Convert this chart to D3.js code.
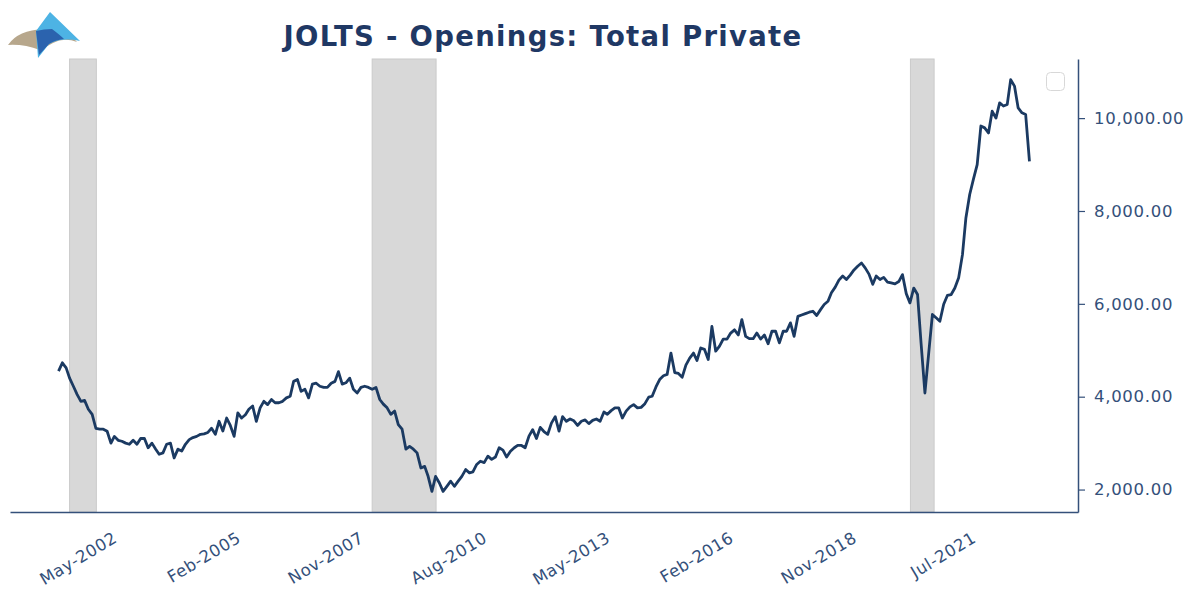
<!DOCTYPE html>
<html>
<head>
<meta charset="utf-8">
<script src="https://cdn.jsdelivr.net/npm/d3@7"></script>
<style>
body { margin:0; background:#fff; }
#canvas { width:1200px; height:595px; }
svg { display:block; font-family:"DejaVu Sans", sans-serif; }
</style>
</head>
<body>
<div id="canvas" class="canvas"></div>
<script>
var title = 'JOLTS - Openings: Total Private';

// monthly values, thousands, starting Dec 2000
var firstMonth = '2000-12';
var y2000 = [4550];
var y2001 = [4730, 4620, 4400, 4225, 4050, 3900, 3920, 3730, 3620, 3320, 3300, 3300];
var y2002 = [3255, 3000, 3145, 3060, 3040, 3000, 2975, 3060, 2975, 3100, 3100, 2900];
var y2003 = [3000, 2870, 2760, 2790, 2975, 3000, 2680, 2870, 2830, 2975, 3075, 3120];
var y2004 = [3145, 3190, 3200, 3230, 3320, 3190, 3470, 3260, 3540, 3380, 3145, 3650];
var y2005 = [3540, 3610, 3730, 3800, 3470, 3760, 3900, 3830, 3940, 3870, 3870, 3900];
var y2006 = [3975, 4010, 4330, 4370, 4115, 4160, 3975, 4270, 4290, 4225, 4200, 4200];
var y2007 = [4290, 4330, 4540, 4270, 4300, 4400, 4160, 4080, 4200, 4225, 4200, 4160];
var y2008 = [4200, 3940, 3840, 3760, 3620, 3690, 3400, 3300, 2870, 2930, 2870, 2790];
var y2009 = [2465, 2500, 2285, 1960, 2285, 2140, 1960, 2070, 2180, 2070, 2180, 2285];
var y2010 = [2430, 2360, 2380, 2540, 2610, 2580, 2720, 2650, 2700, 2900, 2850, 2700];
var y2011 = [2825, 2900, 2950, 2950, 2900, 3150, 3290, 3100, 3340, 3250, 3190, 3430];
var y2012 = [3570, 3260, 3570, 3470, 3520, 3480, 3380, 3470, 3500, 3420, 3490, 3520];
var y2013 = [3470, 3670, 3620, 3700, 3760, 3760, 3540, 3690, 3780, 3830, 3760, 3770];
var y2014 = [3850, 3990, 4010, 4210, 4370, 4450, 4480, 4940, 4520, 4500, 4420, 4680];
var y2015 = [4830, 4940, 4780, 5050, 5020, 4800, 5515, 4980, 5090, 5240, 5240, 5370];
var y2016 = [5440, 5330, 5660, 5300, 5250, 5250, 5370, 5240, 5330, 5140, 5410, 5410];
var y2017 = [5160, 5410, 5410, 5590, 5300, 5730, 5760, 5790, 5820, 5840, 5750, 5870];
var y2018 = [5985, 6055, 6240, 6360, 6510, 6600, 6525, 6620, 6730, 6810, 6880, 6775];
var y2019 = [6640, 6420, 6600, 6525, 6570, 6470, 6450, 6430, 6480, 6630, 6220, 6020];
var y2020 = [6340, 6200, 5140, 4080, 4910, 5770, 5700, 5625, 5990, 6180, 6200, 6340];
var y2021 = [6560, 7060, 7850, 8355, 8680, 9000, 9830, 9790, 9680, 10150, 10000, 10330];
var y2022 = [10260, 10295, 10830, 10690, 10220, 10115, 10080, 9070];

var xTicks = ['May-2002', 'Feb-2005', 'Nov-2007', 'Aug-2010', 'May-2013', 'Feb-2016', 'Nov-2018', 'Jul-2021'];
var yTicks = [2000, 4000, 6000, 8000, 10000];

var recessions = [
    ['2001-03-01', '2001-10-05'],
    ['2007-12-01', '2009-05-05'],
    ['2019-12-05', '2020-06-15']
];

var values = [].concat(y2000, y2001, y2002, y2003, y2004, y2005, y2006, y2007, y2008, y2009, y2010,
    y2011, y2012, y2013, y2014, y2015, y2016, y2017, y2018, y2019, y2020, y2021, y2022);

var start = d3.timeParse('%Y-%m')(firstMonth);
var series = values.map(function(v, i){
    return {date: d3.timeMonth.offset(start, i), value: v};
});

var m = {t:59, r:122, b:83, l:10},
    W = 1200, H = 595,
    w = W - m.l - m.r,
    h = H - m.t - m.b;

var svg = d3.select('.canvas')
    .append('svg')
    .attr('width', W)
    .attr('height', H);

var plot = svg.append('g')
    .attr('class','plot')
    .attr('transform','translate('+ m.l+','+ m.t+')');

// matplotlib style 5% margins
var xExt = d3.extent(series, function(d){ return d.date; }),
    xPad = (xExt[1] - xExt[0]) * 0.05;
var x = d3.scaleTime()
    .domain([new Date(+xExt[0] - xPad), new Date(+xExt[1] + xPad)])
    .range([0, w]);

var yExt = d3.extent(series, function(d){ return d.value; }),
    yPad = (yExt[1] - yExt[0]) * 0.05;
var y = d3.scaleLinear()
    .domain([yExt[0] - yPad, yExt[1] + yPad])
    .range([h, 0]);

var ink = '#34507a',
    font = '"DejaVu Sans", sans-serif';

// recession shading
var parseDay = d3.timeParse('%Y-%m-%d');
plot.selectAll('.rec')
    .data(recessions)
    .enter()
    .append('rect')
    .attr('class','rec')
    .attr('x', function(d){ return x(parseDay(d[0])); })
    .attr('width', function(d){ return x(parseDay(d[1])) - x(parseDay(d[0])); })
    .attr('y', 0)
    .attr('height', h)
    .attr('fill', '#d8d8d8')
    .attr('stroke', '#cacaca')
    .attr('stroke-width', 1);

var line = d3.line()
    .x(function(d){ return x(d.date); })
    .y(function(d){ return y(d.value); });

plot.append('path')
    .datum(series)
    .attr('d', line)
    .attr('fill', 'none')
    .attr('stroke', '#1b3a62')
    .attr('stroke-width', 2.8)
    .attr('stroke-linejoin', 'round');

// x axis
var parseTick = d3.timeParse('%b-%Y');
var xAxis = plot.append('g')
    .attr('transform', 'translate(0,' + h + ')')
    .call(d3.axisBottom(x)
        .tickValues(xTicks.map(parseTick))
        .tickFormat(d3.timeFormat('%b-%Y'))
        .tickSize(0)
        .tickSizeOuter(0));
xAxis.attr('font-family', font);
xAxis.select('.domain').attr('stroke', ink).attr('stroke-width', 1.5);
xAxis.selectAll('.tick text')
    .attr('fill', ink)
    .attr('font-size', 16.5)
    .attr('letter-spacing', 0.6)
    .attr('text-anchor', 'end')
    .attr('y', 0).attr('dy', 0)
    .attr('transform', 'translate(-4,29) rotate(-31)');

// y axis on the right
var yAxis = plot.append('g')
    .attr('transform', 'translate(' + w + ',0)')
    .call(d3.axisRight(y)
        .tickValues(yTicks)
        .tickFormat(d3.format(',.2f'))
        .tickSize(7)
        .tickPadding(9)
        .tickSizeOuter(0));
yAxis.attr('font-family', font);
yAxis.select('.domain').attr('stroke', ink).attr('stroke-width', 1.5);
yAxis.selectAll('.tick line').attr('stroke', ink).attr('stroke-width', 1.2);
yAxis.selectAll('.tick text')
    .attr('fill', ink)
    .attr('font-size', 16.5)
    .attr('letter-spacing', 0.7);

// empty legend frame
plot.append('rect')
    .attr('x', w - 31.5).attr('y', 13.5)
    .attr('width', 18).attr('height', 18)
    .attr('rx', 4)
    .attr('fill', '#fff')
    .attr('stroke', '#d8d8d8');

// title
svg.append('text')
    .attr('x', m.l + w / 2 - 1)
    .attr('y', 46)
    .attr('text-anchor', 'middle')
    .attr('font-family', font)
    .attr('font-size', 27.5)
    .attr('letter-spacing', 1.3)
    .attr('font-weight', 'bold')
    .attr('fill', '#1f3864')
    .text(title);

// logo
var logo = svg.append('g');
logo.append('path')
    .attr('d', 'M8,45 Q18,30 44,29 Q66,29 77,42 Q64,37 53,43 Q46,47 40,50 Q24,44 8,45 Z')
    .attr('fill', '#b7a78c');
logo.append('path')
    .attr('d', 'M50,12 L80,41 Q62,37 49,44 L38,58 L36,31 Z')
    .attr('fill', '#4db3e4');
logo.append('path')
    .attr('d', 'M36,31 Q44,29 52,29 Q60,35 64,39 Q55,40 49,44 L39,55 Z')
    .attr('fill', '#2b63ae');
</script>
</body>
</html>
